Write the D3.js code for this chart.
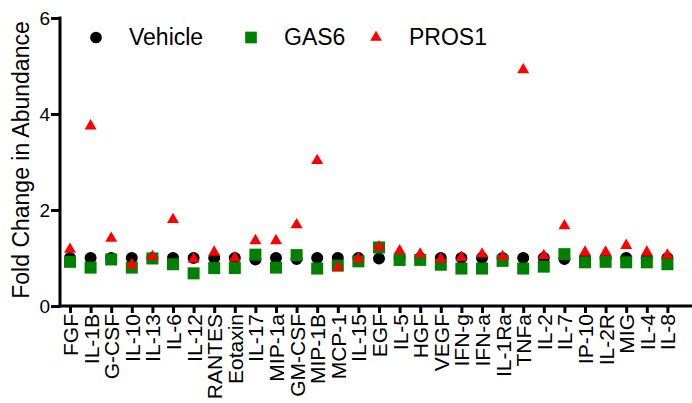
<!DOCTYPE html>
<html>
<head>
<meta charset="utf-8">
<script src="https://cdn.jsdelivr.net/npm/d3@7"></script>
<style>
  body { margin: 0; background: #fff; }
  text { font-family: "Liberation Sans", Arial, sans-serif; fill: #000; }
</style>
</head>
<body>
<svg width="692" height="403"></svg>
<script>
var categories = ["FGF", "IL-1B", "G-CSF", "IL-10", "IL-13", "IL-6", "IL-12", "RANTES", "Eotaxin", "IL-17",
  "MIP-1a", "GM-CSF", "MIP-1B", "MCP-1", "IL-15", "EGF", "IL-5", "HGF", "VEGF", "IFN-g",
  "IFN-a", "IL-1Ra", "TNFa", "IL-2", "IL-7", "IP-10", "IL-2R", "MIG", "IL-4", "IL-8"];

var vehicle = [1.0, 1.0, 1.0, 1.0, 1.0, 1.0, 1.0, 1.0, 1.0, 0.97,
  1.0, 0.98, 1.0, 1.0, 1.0, 0.99, 1.0, 1.0, 1.0, 1.0,
  1.0, 1.0, 1.0, 1.0, 0.98, 1.0, 1.0, 1.0, 1.0, 1.0];

var gas6 = [0.92, 0.80, 0.97, 0.80, 0.99, 0.87, 0.68, 0.79, 0.79, 1.07,
  0.80, 1.06, 0.78, 0.84, 0.93, 1.22, 0.96, 0.96, 0.86, 0.78,
  0.78, 0.94, 0.78, 0.82, 1.08, 0.91, 0.92, 0.91, 0.91, 0.87];

var pros1 = [1.18, 3.75, 1.41, 0.86, 1.03, 1.80, 0.98, 1.12, 1.0, 1.36,
  1.36, 1.69, 3.03, 0.80, 0.98, 1.23, 1.15, 1.08, 0.98, 1.01,
  1.08, 1.03, 4.92, 1.05, 1.67, 1.12, 1.12, 1.26, 1.12, 1.06];

var yTicks = [0, 2, 4, 6];
var seriesNames = ["Vehicle", "GAS6", "PROS1"];

var svg = d3.select("svg");

var x = d3.scalePoint().domain(categories).range([70, 667.4]),
    y = d3.scaleLinear().domain([0, 6]).range([306, 18]);

var series = [
  {name: seriesNames[0], values: vehicle, color: "#000000", symbol: d3.symbolCircle, size: 113},
  {name: seriesNames[1], values: gas6, color: "#008000", symbol: d3.symbolSquare, size: 144},
  {name: seriesNames[2], values: pros1, color: "#ff0000", symbol: d3.symbolTriangle, size: 62}
];

// y axis
var yAxis = svg.append("g")
    .attr("transform", "translate(60,0)")
    .call(d3.axisLeft(y).tickValues(yTicks).tickFormat(d3.format("d")).tickSize(9).tickPadding(1).tickSizeOuter(0));
yAxis.select(".domain").attr("stroke-width", 3).attr("d", "M0,16.5V307.5");
yAxis.selectAll(".tick line").attr("stroke-width", 3);
yAxis.selectAll(".tick text").style("font-size", "19px");

// x axis
var xAxis = svg.append("g")
    .attr("transform", "translate(0,306)")
    .call(d3.axisBottom(x).tickSize(7).tickSizeOuter(0));
xAxis.select(".domain").attr("stroke-width", 3).attr("d", "M58.5,0H692");
xAxis.selectAll(".tick line").attr("stroke-width", 3);
xAxis.selectAll(".tick text")
    .style("font-size", "21px")
    .style("text-anchor", "end")
    .attr("transform", "rotate(-90)")
    .attr("x", -8)
    .attr("y", 0)
    .attr("dy", "0.36em");

// y title
svg.append("text")
    .attr("transform", "translate(28.5,160) rotate(-90)")
    .style("text-anchor", "middle")
    .style("font-size", "23px")
    .text("Fold Change in Abundance");

// points
series.forEach(function(s) {
  svg.append("g").selectAll("path")
    .data(s.values)
    .enter().append("path")
      .attr("transform", function(d, i) { return "translate(" + x(categories[i]) + "," + y(d) + ")"; })
      .attr("d", d3.symbol().type(s.symbol).size(s.size))
      .attr("fill", s.color);
});

// legend
var legendX = [96, 251, 376];
var legend = svg.append("g");
series.forEach(function(s, i) {
  legend.append("path")
      .attr("transform", "translate(" + legendX[i] + ",37.5)")
      .attr("d", d3.symbol().type(s.symbol).size(s.size * 0.95))
      .attr("fill", s.color);
  legend.append("text")
      .attr("x", legendX[i] + 33)
      .attr("y", 45)
      .style("font-size", "23px")
      .text(s.name);
});
</script>
</body>
</html>
